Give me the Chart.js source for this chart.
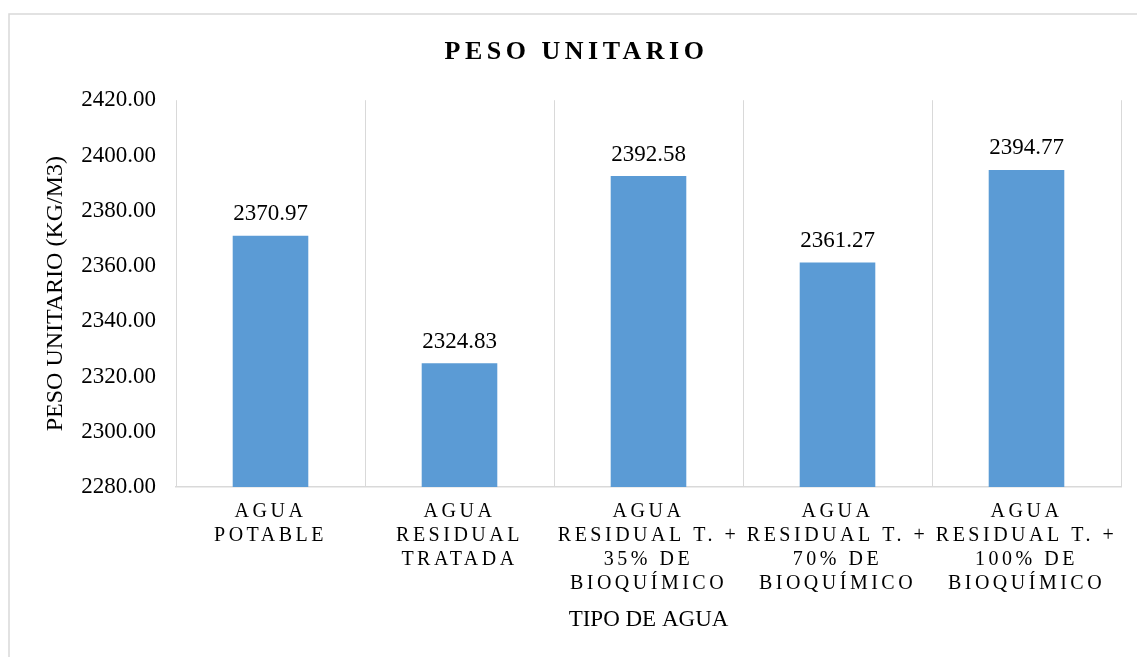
<!DOCTYPE html>
<html>
<head>
<meta charset="utf-8">
<script src="https://cdn.jsdelivr.net/npm/chart.js@4"></script>
<style>
  html, body { margin: 0; padding: 0; background: #fff; }
  #wrap { width: 1137px; height: 657px; }
</style>
</head>
<body>
<div id="wrap"><canvas id="chart"></canvas></div>
<script>
var categories = [
	['AGUA', 'POTABLE'],
	['AGUA', 'RESIDUAL', 'TRATADA'],
	['AGUA', 'RESIDUAL T. +', '35% DE', 'BIOQUÍMICO'],
	['AGUA', 'RESIDUAL T. +', '70% DE', 'BIOQUÍMICO'],
	['AGUA', 'RESIDUAL T. +', '100% DE', 'BIOQUÍMICO']
];
var pesoUnitario = [2370.97, 2324.83, 2392.58, 2361.27, 2394.77];
var yMin = 2280;
var yMax = 2420;
var yStep = 20;

var serif = "'Liberation Serif', 'Times New Roman', serif";
var gridGray = '#d9d9d9';

// white page + thin frame round the chart
var framePlugin = {
	id: 'frame',
	beforeDraw: function (chart) {
		var ctx = chart.ctx;
		ctx.save();
		ctx.fillStyle = '#fff';
		ctx.fillRect(0, 0, chart.width, chart.height);
		ctx.strokeStyle = gridGray;
		ctx.lineWidth = 1.5;
		ctx.strokeRect(9, 14, chart.width + 20, chart.height + 20);
		ctx.restore();
	}
};

// letter spacing for the title and the category labels
var spacingPlugin = {
	id: 'spacing',
	beforeDraw: function (chart) {
		var ctx = chart.ctx;
		var title = chart.titleBlock;
		if (title && !title._spaced) {
			var drawTitle = title.draw;
			title.draw = function () {
				ctx.save();
				ctx.translate(10, 0);
				ctx.letterSpacing = '4.5px';
				drawTitle.apply(this, arguments);
				ctx.restore();
			};
			title._spaced = true;
		}
		var x = chart.scales.x;
		if (x && !x._spaced) {
			var drawLabels = x.drawLabels;
			x.drawLabels = function () {
				ctx.save();
				ctx.letterSpacing = '3.5px';
				drawLabels.apply(this, arguments);
				ctx.restore();
			};
			x._spaced = true;
		}
	}
};

var valueLabels = {
	id: 'valueLabels',
	afterDatasetsDraw: function (chart) {
		var ctx = chart.ctx;
		var meta = chart.getDatasetMeta(0);
		ctx.save();
		ctx.font = '23px ' + serif;
		ctx.fillStyle = '#000';
		ctx.textAlign = 'center';
		ctx.textBaseline = 'bottom';
		meta.data.forEach(function (bar, i) {
			ctx.fillText(pesoUnitario[i].toFixed(2), bar.x, bar.y - 10);
		});
		ctx.restore();
	}
};

var ctx = document.getElementById('chart').getContext('2d');
var chart = new Chart(ctx, {
	type: 'bar',
	data: {
		labels: categories,
		datasets: [{
			label: 'Peso unitario',
			data: pesoUnitario,
			backgroundColor: '#5b9bd5',
			borderWidth: 0,
			barPercentage: 0.4,
			categoryPercentage: 1
		}]
	},
	options: {
		responsive: true,
		maintainAspectRatio: false,
		animation: false,
		layout: { padding: { left: 12, right: 16, top: 0, bottom: 0 } },
		plugins: {
			legend: { display: false },
			tooltip: { enabled: false },
			title: {
				display: true,
				text: 'PESO UNITARIO',
				color: '#000',
				font: { family: serif, size: 26, weight: 'bold', lineHeight: 1.2 },
				padding: { top: 37, bottom: 32 }
			}
		},
		scales: {
			x: {
				grid: { display: true, color: gridGray, lineWidth: 1, drawTicks: false, offset: true },
				border: { display: true, color: gridGray, width: 1.5 },
				ticks: {
					color: '#000',
					font: { family: serif, size: 20, lineHeight: 1.2 },
					padding: 13,
					maxRotation: 0,
					minRotation: 0,
					autoSkip: false
				},
				title: {
					display: true,
					text: 'TIPO DE AGUA',
					color: '#000',
					font: { family: serif, size: 23, lineHeight: 1.2 },
					padding: { top: 0, bottom: 23 }
				},
				afterFit: function (scale) { scale.height = 170; }
			},
			y: {
				min: yMin,
				max: yMax,
				grid: { display: false, drawTicks: false },
				border: { display: false },
				ticks: {
					stepSize: yStep,
					color: '#000',
					font: { family: serif, size: 23 },
					padding: 20,
					callback: function (v) { return v.toFixed(2); }
				},
				title: {
					display: true,
					text: 'PESO UNITARIO (KG/M3)',
					color: '#000',
					font: { family: serif, size: 24, lineHeight: 1.2 },
					padding: { top: 29, bottom: 0 }
				},
				afterFit: function (scale) { scale.width = 164; }
			}
		}
	},
	plugins: [framePlugin, spacingPlugin, valueLabels]
});
</script>
</body>
</html>
